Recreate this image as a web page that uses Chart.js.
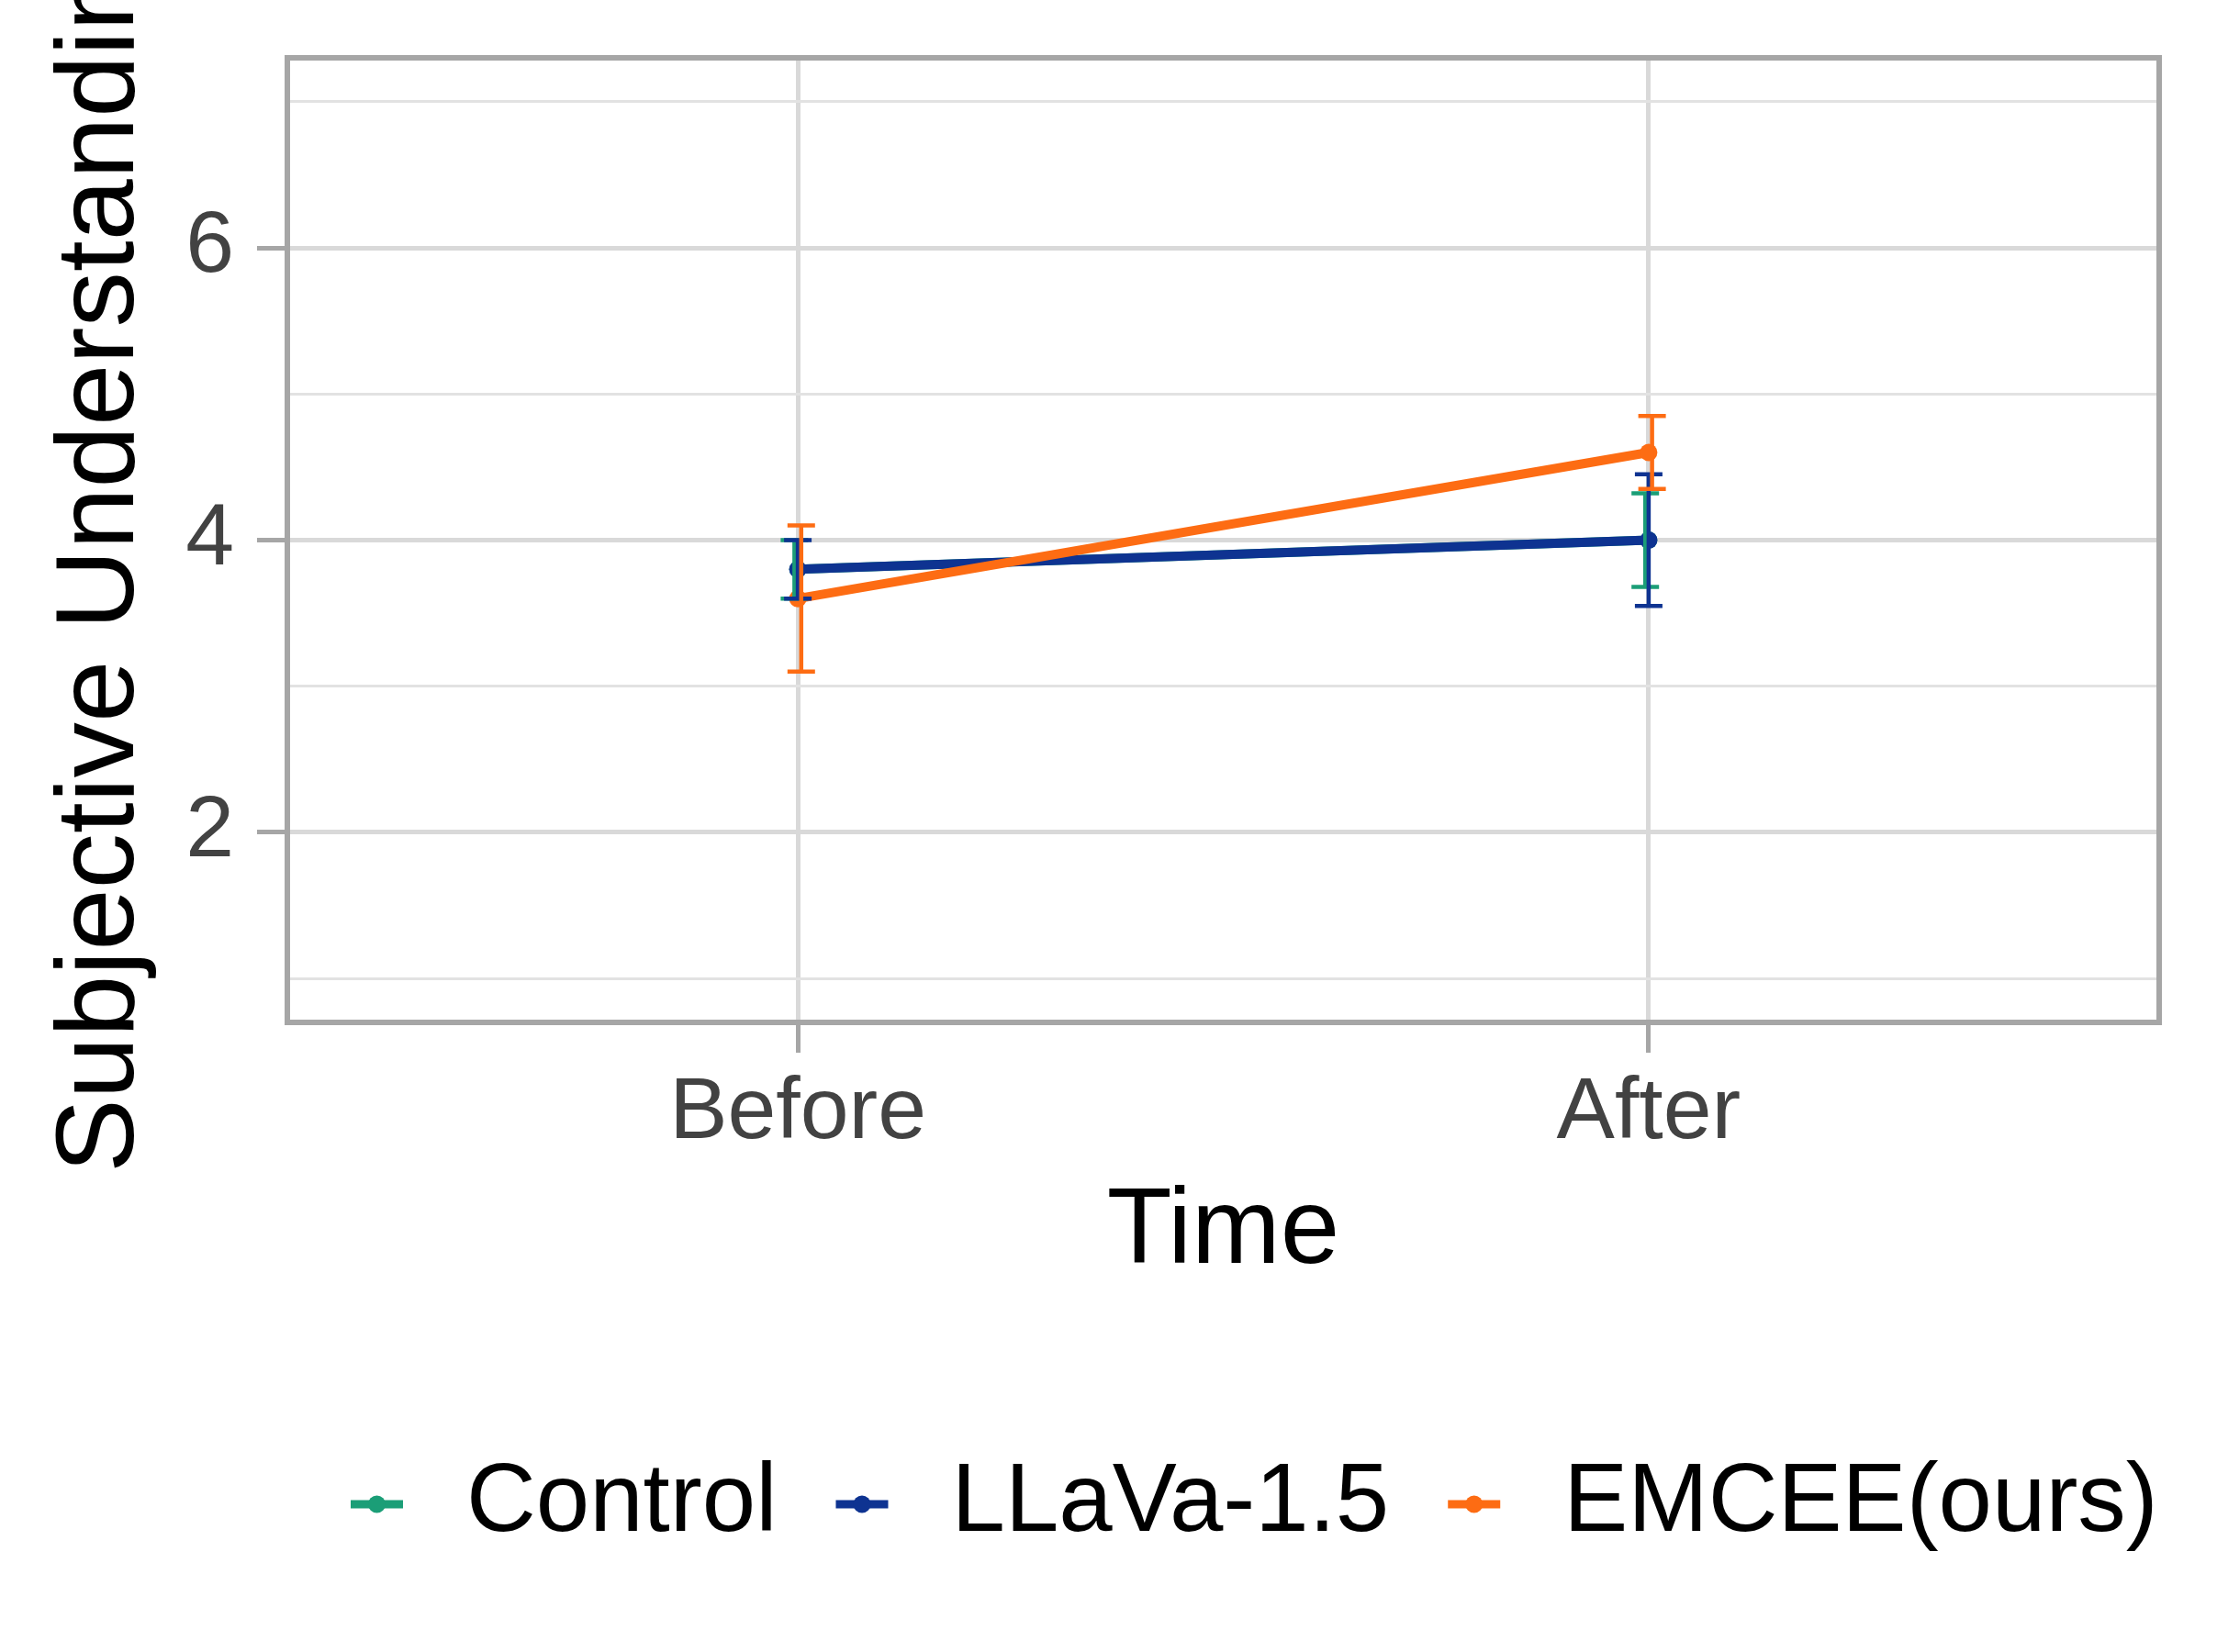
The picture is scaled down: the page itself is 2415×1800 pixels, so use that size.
<!DOCTYPE html>
<html>
<head>
<meta charset="utf-8">
<script src="https://cdn.jsdelivr.net/npm/chart.js@4.4.1/dist/chart.umd.min.js"></script>
<style>
  html, body { margin: 0; padding: 0; background: #fff; }
  canvas { display: block; }
</style>
</head>
<body>
<canvas id="chart" width="2415" height="1800"></canvas>
<script>
const categories = ['Before', 'After'];
const seriesNames = ['Control', 'LLaVa-1.5', 'EMCEE(ours)'];
const seriesColors = ['#1b9e77', '#0e3391', '#fd6c13'];

const controlMean = [3.8, 4.0];
const controlLow = [3.6, 3.68];
const controlHigh = [4.0, 4.32];

const llavaMean = [3.8, 4.0];
const llavaLow = [3.6, 3.55];
const llavaHigh = [4.0, 4.45];

const emceeMean = [3.6, 4.6];
const emceeLow = [3.1, 4.35];
const emceeHigh = [4.1, 4.85];

const yTicks = [1, 2, 3, 4, 5, 6, 7];
const yLabels = ['', '2', '', '4', '', '6', ''];
const dodge = [-0.004, 0, 0.004];

const means = [controlMean, llavaMean, emceeMean];
const lows = [controlLow, llavaLow, emceeLow];
const highs = [controlHigh, llavaHigh, emceeHigh];

const FONT = "'Liberation Sans', Arial, sans-serif";
const TICK_GREY = '#a6a6a6';

// panel border drawn on top like ggplot theme_light
const panelBorder = {
  id: 'panelBorder',
  afterDraw(chart) {
    const {ctx, chartArea: a} = chart;
    ctx.save();
    ctx.strokeStyle = TICK_GREY;
    ctx.lineWidth = 6;
    ctx.strokeRect(a.left, a.top, a.right - a.left, a.bottom - a.top);
    ctx.restore();
  }
};

const errorBars = {
  id: 'errorBars',
  afterDatasetsDraw(chart) {
    const {ctx, scales} = chart;
    const x = scales.x, y = scales.y;
    ctx.save();
    ctx.lineWidth = 4.5;
    lows.forEach((low, k) => {
      ctx.strokeStyle = seriesColors[k];
      categories.forEach((c, i) => {
        const px = x.getPixelForValue(i + 1 + dodge[k]);
        const top = y.getPixelForValue(highs[k][i]);
        const bot = y.getPixelForValue(low[i]);
        ctx.beginPath();
        ctx.moveTo(px, top); ctx.lineTo(px, bot);
        ctx.moveTo(px - 15, top); ctx.lineTo(px + 15, top);
        ctx.moveTo(px - 15, bot); ctx.lineTo(px + 15, bot);
        ctx.stroke();
      });
    });
    ctx.restore();
  }
};

// y title is wider than the panel, ggplot lets it run off the page
const yTitle = {
  id: 'yTitle',
  afterDraw(chart) {
    const {ctx, chartArea: a} = chart;
    ctx.save();
    ctx.translate(112, (a.top + a.bottom) / 2);
    ctx.rotate(-Math.PI / 2);
    ctx.font = '121px ' + FONT;
    ctx.fillStyle = '#000';
    ctx.textAlign = 'center';
    ctx.textBaseline = 'middle';
    ctx.fillText('Subjective Understanding', 0, 0);
    ctx.restore();
  }
};

const bottomLegend = {
  id: 'bottomLegend',
  afterDraw(chart) {
    const ctx = chart.ctx;
    const cy = 1639;
    let xPos = 382;
    ctx.save();
    ctx.font = '105px ' + FONT;
    ctx.textBaseline = 'middle';
    ctx.textAlign = 'left';
    seriesNames.forEach((name, k) => {
      ctx.strokeStyle = seriesColors[k];
      ctx.fillStyle = seriesColors[k];
      ctx.lineWidth = 9;
      ctx.beginPath();
      ctx.moveTo(xPos, cy);
      ctx.lineTo(xPos + 57, cy);
      ctx.stroke();
      ctx.beginPath();
      ctx.arc(xPos + 28.5, cy, 9.5, 0, Math.PI * 2);
      ctx.fill();
      ctx.fillStyle = '#000';
      const tx = xPos + 57 + 69;
      ctx.fillText(name, tx, cy);
      xPos = tx + ctx.measureText(name).width + 64;
    });
    ctx.restore();
  }
};

const datasets = seriesNames.map((name, k) => ({
  label: name,
  data: categories.map((c, i) => ({x: i + 1, y: means[k][i]})),
  borderColor: seriesColors[k],
  backgroundColor: seriesColors[k],
  borderWidth: 10,
  pointRadius: 9.5,
  pointBorderWidth: 0,
  pointHoverRadius: 9.5,
  showLine: true,
  fill: false,
  order: seriesNames.length - k
}));

function noPad(scale) {
  scale.paddingTop = 0;
  scale.paddingBottom = 0;
  scale.paddingLeft = 0;
  scale.paddingRight = 0;
}

new Chart(document.getElementById('chart'), {
  type: 'scatter',
  data: { datasets: datasets },
  options: {
    responsive: false,
    animation: false,
    devicePixelRatio: 1,
    layout: { padding: { top: 63, right: 63, bottom: 386, left: 0 } },
    plugins: {
      legend: { display: false },
      tooltip: { enabled: false }
    },
    scales: {
      x: {
        type: 'linear',
        min: 0.4,
        max: 2.6,
        afterBuildTicks: (scale) => { scale.ticks = categories.map((c, i) => ({ value: i + 1 })); },
        afterFit: (scale) => { scale.height = 300; noPad(scale); },
        ticks: {
          autoSkip: false,
          maxRotation: 0,
          padding: 10,
          color: '#424242',
          font: { family: FONT, size: 95 },
          callback: (v, i) => categories[i]
        },
        grid: {
          color: '#d9d9d9',
          lineWidth: 5,
          tickColor: TICK_GREY,
          tickWidth: 5,
          tickLength: 33
        },
        border: { display: false },
        title: {
          display: true,
          text: 'Time',
          color: '#000',
          font: { family: FONT, size: 116 },
          padding: { top: 0, bottom: 0 }
        }
      },
      y: {
        type: 'linear',
        min: 0.7,
        max: 7.3,
        afterBuildTicks: (scale) => { scale.ticks = yTicks.map(v => ({ value: v })); },
        afterFit: (scale) => { scale.width = 313; noPad(scale); },
        ticks: {
          autoSkip: false,
          padding: 25,
          color: '#424242',
          font: { family: FONT, size: 95 },
          callback: (v, i) => yLabels[i]
        },
        grid: {
          color: (c) => (c.tick && c.tick.value % 2 === 0) ? '#d9d9d9' : '#e2e2e2',
          lineWidth: (c) => (c.tick && c.tick.value % 2 === 0) ? 5 : 3,
          tickColor: (c) => (c.tick && c.tick.value % 2 === 0) ? TICK_GREY : 'rgba(0,0,0,0)',
          tickWidth: 5,
          tickLength: 33
        },
        border: { display: false }
      }
    }
  },
  plugins: [errorBars, panelBorder, yTitle, bottomLegend]
});
</script>
</body>
</html>
